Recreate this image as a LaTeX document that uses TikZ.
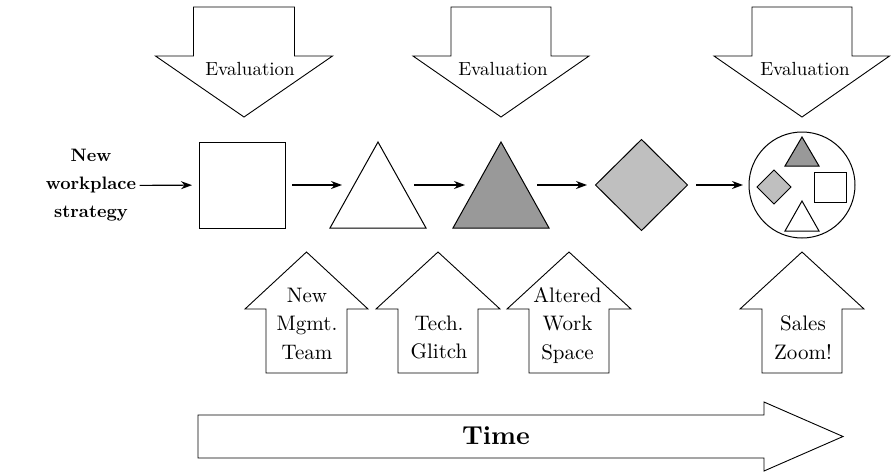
\documentclass[tikz,border=0pt]{standalone}
\usepackage{fontspec}
\setmainfont{lmroman10-regular.otf}[BoldFont=lmroman10-bold.otf]
\usepackage{tikz}
\usetikzlibrary{positioning}
\usetikzlibrary{shapes.geometric}
\usetikzlibrary{arrows.meta}

\definecolor{darkfill}{gray}{0.6}
\definecolor{lightfill}{gray}{0.75}

\begin{document}
\begin{tikzpicture}[x=1pt,y=-1pt,
  flow/.style={-{Stealth[length=11pt,width=8pt]},line width=1.1pt},
  bigarrow/.style={draw=black,line width=.9pt,fill=white},
  shapeline/.style={draw=black,line width=1pt},
  slot/.style={minimum width=72pt,minimum height=86pt,inner sep=0pt,outer sep=0pt},
  lbl/.style={font=\fontsize{19}{28.5}\selectfont,align=center,inner sep=0pt},
  evlbl/.style={font=\fontsize{21}{28.5}\selectfont,align=center,inner sep=0pt}]
\useasboundingbox (0,0) rectangle (892,474);

% evaluation arrows (top)
\draw[bigarrow] (193.5,7)--(294.5,7)--(294.5,56)--(332.5,56)--(244,117)--(155.5,56)--(193.5,56)--cycle;
\draw[bigarrow] (451,7)--(551,7)--(551,56)--(589,56)--(501,117)--(413,56)--(451,56)--cycle;
\draw[bigarrow] (752,7)--(852,7)--(852,56)--(889.5,56)--(802,117)--(714,56)--(752,56)--cycle;
\node(ev1)[lbl,anchor=base] at (250,75) {Evaluation};
\node(ev2)[lbl,anchor=base] at (503,75) {Evaluation};
\node(ev3)[lbl,anchor=base] at (805,75) {Evaluation};

% main row
\node(strat)[align=center,font=\fontsize{18}{28}\selectfont\bfseries] at (91,185.5) {New\\workplace\\strategy};
\node(sq)[shapeline,minimum size=86pt,inner sep=0pt,outer sep=7pt] at (242,185) {};

\node(t1)[slot] at (378,185) {};
\draw[shapeline,fill=white] (t1.north)--([xshift=12pt]t1.south east)--([xshift=-12pt]t1.south west)--cycle;
\node(t2)[slot] at (501,185) {};
\draw[shapeline,fill=darkfill] (t2.north)--([xshift=12pt]t2.south east)--([xshift=-12pt]t2.south west)--cycle;

\node(dia)[shapeline,diamond,fill=lightfill,minimum width=97pt,minimum height=96pt,inner sep=0pt,outer sep=6pt] at (641.5,185) {};
\node(circ)[shapeline,circle,minimum size=106pt,inner sep=0pt,outer sep=6pt] at (802,185) {};

% shapes inside the circle
\draw[shapeline,fill=darkfill] (802,137)--(819,166)--(785,166)--cycle;
\draw[shapeline,fill=lightfill] (757,187)--(774,170)--(791,187)--(774,204)--cycle;
\draw[shapeline] (814,172) rectangle (846,202);
\draw[shapeline] (802,201)--(819,231)--(785,231)--cycle;

\draw[flow] (strat)--(sq);
\draw[flow] (sq)--(t1);
\draw[flow] (t1)--(t2);
\draw[flow] (t2)--(dia);
\draw[flow] (dia)--(circ);

% event arrows (bottom)
\draw[bigarrow] (266,373)--(266,309)--(245,309)--(306.5,252)--(368,309)--(347,309)--(347,373)--cycle;
\draw[bigarrow] (398,373)--(398,309)--(376,309)--(438,252)--(500,309)--(478,309)--(478,373)--cycle;
\draw[bigarrow] (529,373)--(529,309)--(507,309)--(569,252)--(631,309)--(609,309)--(609,373)--cycle;
\draw[bigarrow] (762,373)--(762,309)--(740,309)--(802,252)--(864,309)--(842,309)--(842,373)--cycle;
\node(ev4)[evlbl] at (307,323.5) {New\\Mgmt.\\Team};
\node(ev5)[evlbl] at (439,337.5) {Tech.\\Glitch};
\node(ev6)[evlbl] at (567.5,325.5) {Altered\\Work\\Space};
\node(ev7)[evlbl] at (803,337.5) {Sales\\Zoom!};

% time arrow
\draw[bigarrow] (198,415)--(764,415)--(764,402)--(843,436.5)--(764,471)--(764,458)--(198,458)--cycle;
\node(time)[anchor=base,font=\fontsize{26}{30}\selectfont\bfseries] at (496,444) {Time};
\end{tikzpicture}
\end{document}
